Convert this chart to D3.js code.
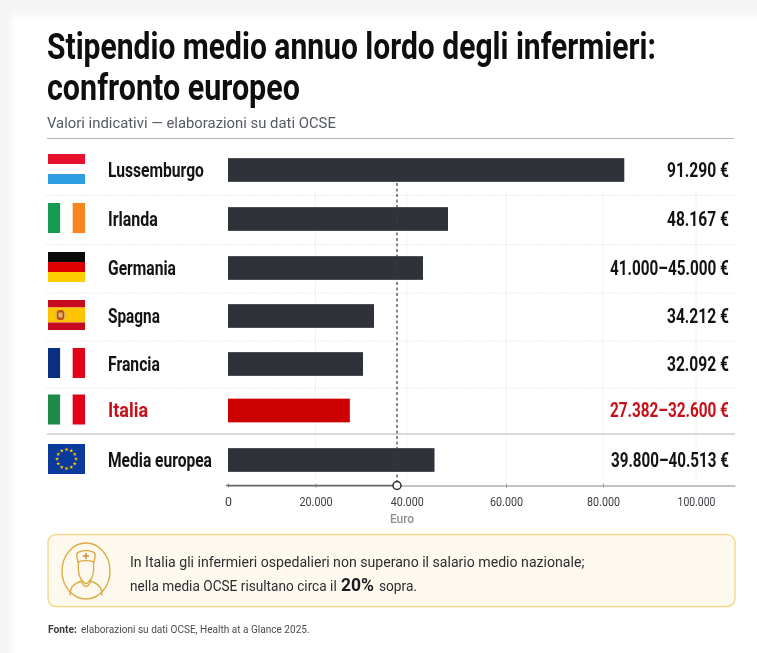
<!DOCTYPE html>
<html lang="it">
<head>
<meta charset="utf-8">
<script src="https://cdn.jsdelivr.net/npm/d3@7/dist/d3.min.js"></script>
<style>
html,body{margin:0;padding:0;background:#f5f5f5;overflow:hidden}
svg{display:block;filter:blur(0.35px)}
text{font-family:Roboto,"Liberation Sans",sans-serif}
</style>
</head>
<body>
<svg id="chart" width="757" height="653"></svg>
<script>
const titleLines = ["Stipendio medio annuo lordo degli infermieri:", "confronto europeo"];
const subtitle = "Valori indicativi — elaborazioni su dati OCSE";
const countries = ["Lussemburgo","Irlanda","Germania","Spagna","Francia","Italia","Media europea"];
const barValues = [84580,48320,43280,32830,30420,27530,45600];
const valueLabels = ["91.290 €","48.167 €","41.000–45.000 €","34.212 €","32.092 €","27.382–32.600 €","39.800–40.513 €"];
const tickValues = [0,20000,40000,60000,80000,100000];
const referenceValue = 37870;
const axisTitle = "Euro";
const highlighted = "Italia";
const flagStripes = [
  {dir:"h",colors:["#e8112d","#ffffff","#2e9ee0"],weights:[1,1,1]},
  {dir:"v",colors:["#169b52","#ffffff","#f7861f"],weights:[1,1,1]},
  {dir:"h",colors:["#0a0a0a","#dd0000","#ffce00"],weights:[1,1,1]},
  {dir:"h",colors:["#c60b1e","#ffc400","#c60b1e"],weights:[1,2,1]},
  {dir:"v",colors:["#0b2f80","#ffffff","#e2001a"],weights:[1,1,1]},
  {dir:"v",colors:["#1d8a45","#ffffff","#e2001a"],weights:[1,1,1]},
  {dir:"h",colors:["#0a3a9c"],weights:[1]}
];
const calloutLine1 = "In Italia gli infermieri ospedalieri non superano il salario medio nazionale;";
const calloutLine2 = ["nella media OCSE risultano circa il","20%","sopra."];
const sourceParts = ["Fonte:","elaborazioni su dati OCSE, Health at a Glance 2025."];

const svg = d3.select("#chart");
const ink = "#121315", bar = "#2f3238", red = "#c8101a";

function put(str,x,y,opt){
  const t = svg.append("text").text(str)
    .attr("font-size",opt.size).attr("font-weight",opt.weight||400).attr("fill",opt.fill||ink)
    .attr("text-anchor",opt.anchor||"start");
  const sx = opt.width ? opt.width/t.node().getComputedTextLength() : 1;
  t.attr("transform",`translate(${x},${y}) scale(${sx},1)`);
  return t;
}

// page and card
const defs = svg.append("defs");
defs.append("filter").attr("id","soft").attr("x","-5%").attr("y","-5%").attr("width","110%").attr("height","110%")
  .append("feGaussianBlur").attr("stdDeviation",3);
svg.append("rect").attr("width",757).attr("height",653).attr("fill","#f5f5f5");
svg.append("rect").attr("x",11).attr("y",15).attr("width",800).attr("height",700).attr("fill","#ffffff").attr("filter","url(#soft)");

// scales
const x = d3.scaleLinear().domain([...tickValues,108400]).range([228,315.5,406.7,506,603,696,735]);
const y = d3.scaleOrdinal().domain(countries).range([170,219,268,316,364,410.5,460]);
const barH = 23.7, flagW = 37, flagH = 30;

// title
put(titleLines[0],47,59,{size:37.5,weight:700,fill:"#0d0e10",width:609});
put(titleLines[1],47,99.5,{size:37.5,weight:700,fill:"#0d0e10",width:253});
put(subtitle,47,128,{size:15.5,fill:"#555a60",width:289});
svg.append("line").attr("x1",47).attr("x2",734).attr("y1",138.5).attr("y2",138.5).attr("stroke","#b5b5b5").attr("stroke-width",1.2);

// grid
svg.append("g").selectAll("line").data(tickValues.slice(1)).join("line")
  .attr("x1",d=>x(d)).attr("x2",d=>x(d)).attr("y1",192).attr("y2",480)
  .attr("stroke","#f4f4f4").attr("stroke-width",1);

// row separators
const gaps = d3.pairs(countries);
svg.append("g").selectAll("line").data(gaps).join("line")
  .attr("x1",47).attr("x2",735)
  .attr("y1",d=>d[0]===highlighted?434:(y(d[0])+y(d[1]))/2+1)
  .attr("y2",d=>d[0]===highlighted?434:(y(d[0])+y(d[1]))/2+1)
  .attr("stroke",d=>d[0]===highlighted?"#b4b4b4":"#e4e4e4")
  .attr("stroke-width",d=>d[0]===highlighted?1.2:1)
  .attr("stroke-dasharray",d=>d[0]===highlighted?null:"1.5 1.5");

// bars
svg.append("g").selectAll("rect").data(countries).join("rect")
  .attr("x",x(0)).attr("y",d=>y(d)-barH/2)
  .attr("width",(d,i)=>x(barValues[i])-x(0)).attr("height",barH)
  .attr("fill",d=>d===highlighted?"#cc0000":bar);

// flags
countries.forEach((c,i)=>{
  const f = flagStripes[i], fx = 48, fy = y(c)-1-flagH/2;
  const g = svg.append("g").attr("transform",`translate(${fx},${fy})`);
  const total = d3.sum(f.weights);
  let pos = 0;
  f.colors.forEach((col,j)=>{
    const share = f.weights[j]/total;
    if(f.dir==="h") g.append("rect").attr("x",0).attr("y",pos*flagH).attr("width",flagW).attr("height",share*flagH).attr("fill",col);
    else g.append("rect").attr("x",pos*flagW).attr("y",0).attr("width",share*flagW).attr("height",flagH).attr("fill",col);
    pos += share;
  });
  if(c==="Spagna"){
    g.append("rect").attr("x",9).attr("y",10).attr("width",7).attr("height",10).attr("rx",2.5).attr("fill","#b5531e");
    g.append("rect").attr("x",10.5).attr("y",12.5).attr("width",4).attr("height",5).attr("rx",1).attr("fill","#e9b06a");
    g.append("rect").attr("x",7.8).attr("y",11.5).attr("width",1).attr("height",7).attr("fill","#c9a27a");
    g.append("rect").attr("x",16.2).attr("y",11.5).attr("width",1).attr("height",7).attr("fill","#c9a27a");
  }
  if(c==="Media europea"){
    g.selectAll("path").data(d3.range(12)).join("path")
      .attr("d",d3.symbol(d3.symbolStar,5))
      .attr("transform",d=>{const a=d/12*2*Math.PI;return `translate(${flagW/2+Math.sin(a)*9.5},${flagH/2-Math.cos(a)*9.5})`;})
      .attr("fill","#ffcc00");
  }
});

// labels
const nameWidths = [96,50,68,52,52,40,104];
const valueWidths = [62,62,119,62,62,119,118];
countries.forEach((c,i)=>{
  const col = c===highlighted?red:ink;
  put(c,108,y(c)+6.5,{size:20,weight:700,fill:col,width:nameWidths[i]});
  put(valueLabels[i],729-valueWidths[i],y(c)+6.5,{size:20,weight:700,fill:col,width:valueWidths[i]});
});

// axis
const itLocale = d3.formatLocale({decimal:",",thousands:".",grouping:[3],currency:["","€"]});
const axis = d3.axisBottom(x).tickValues(tickValues).tickFormat(itLocale.format(",")).tickSize(3).tickSizeOuter(0).tickPadding(8);
const gAxis = svg.append("g").attr("transform","translate(0,485.5)").call(axis);
gAxis.select(".domain").attr("stroke","#b0b0b0").attr("stroke-width",1.4);
gAxis.selectAll(".tick line").attr("stroke","#999").attr("y1",-2).attr("y2",2);
gAxis.selectAll(".tick").filter(d=>d===40000||d===100000).select("line").remove();
gAxis.selectAll(".tick text").attr("fill","#3a3d42").style("font-family","Roboto").attr("font-size",13)
  .each(function(d){
    const target = d===0?7:d===100000?38:33;
    d3.select(this).attr("transform",`scale(${target/this.getComputedTextLength()},1)`);
  });
svg.append("line").attr("x1",x(0)-2).attr("x2",x(referenceValue)).attr("y1",485.5).attr("y2",485.5).attr("stroke","#6a6a6a").attr("stroke-width",1.4);
put(axisTitle,402,523,{size:12,weight:500,fill:"#8d9197",anchor:"middle"});

// reference
svg.append("line").attr("x1",x(referenceValue)).attr("x2",x(referenceValue)).attr("y1",183).attr("y2",481)
  .attr("stroke","#3a3c40").attr("stroke-width",1.2).attr("stroke-dasharray","3 2.5");
svg.append("circle").attr("cx",x(referenceValue)).attr("cy",485.5).attr("r",4).attr("fill","#fff").attr("stroke","#2c2e32").attr("stroke-width",1.5);

// callout
svg.append("rect").attr("x",48).attr("y",534.5).attr("width",687).attr("height",72).attr("rx",8)
  .attr("fill","#fef9ef").attr("stroke","#f6d88c").attr("stroke-width",1.4);
const icon = svg.append("g").attr("fill","none").attr("stroke","#dcae4a").attr("stroke-width",1.4).attr("stroke-linecap","round");
icon.append("ellipse").attr("cx",86).attr("cy",571).attr("rx",24).attr("ry",28);
icon.append("path").attr("d","M77 557 Q76 553 79 552 Q86 549 93 552 Q96 553 95 557 L94 562 Q86 559 78 562 Z");
icon.append("path").attr("d","M86 553.5 V558.5 M83.5 556 H88.5").attr("stroke","#c98f2c");
icon.append("path").attr("d","M78.5 562 Q77.5 574 81 579 Q84 583.5 86 583.5 Q88 583.5 91 579 Q94.5 574 93.5 562");
icon.append("path").attr("d","M70 595 Q70 586 77 583 L81 581 Q86 592 91 581 L95 583 Q102 586 102 595");
put(calloutLine1,130,567,{size:15,fill:"#2b2d30",width:455});
put(calloutLine2[0],130,590.5,{size:15,fill:"#2b2d30",width:207});
put(calloutLine2[1],341,591,{size:19,weight:700,fill:"#1a1b1d",width:33});
put(calloutLine2[2],379,590.5,{size:15,fill:"#2b2d30",width:38});

// source
put(sourceParts[0],48,633,{size:10.5,weight:700,fill:"#3a3c40",width:29});
put(sourceParts[1],81,633,{size:10.5,fill:"#4a4c50",width:229});
</script>
</body>
</html>
